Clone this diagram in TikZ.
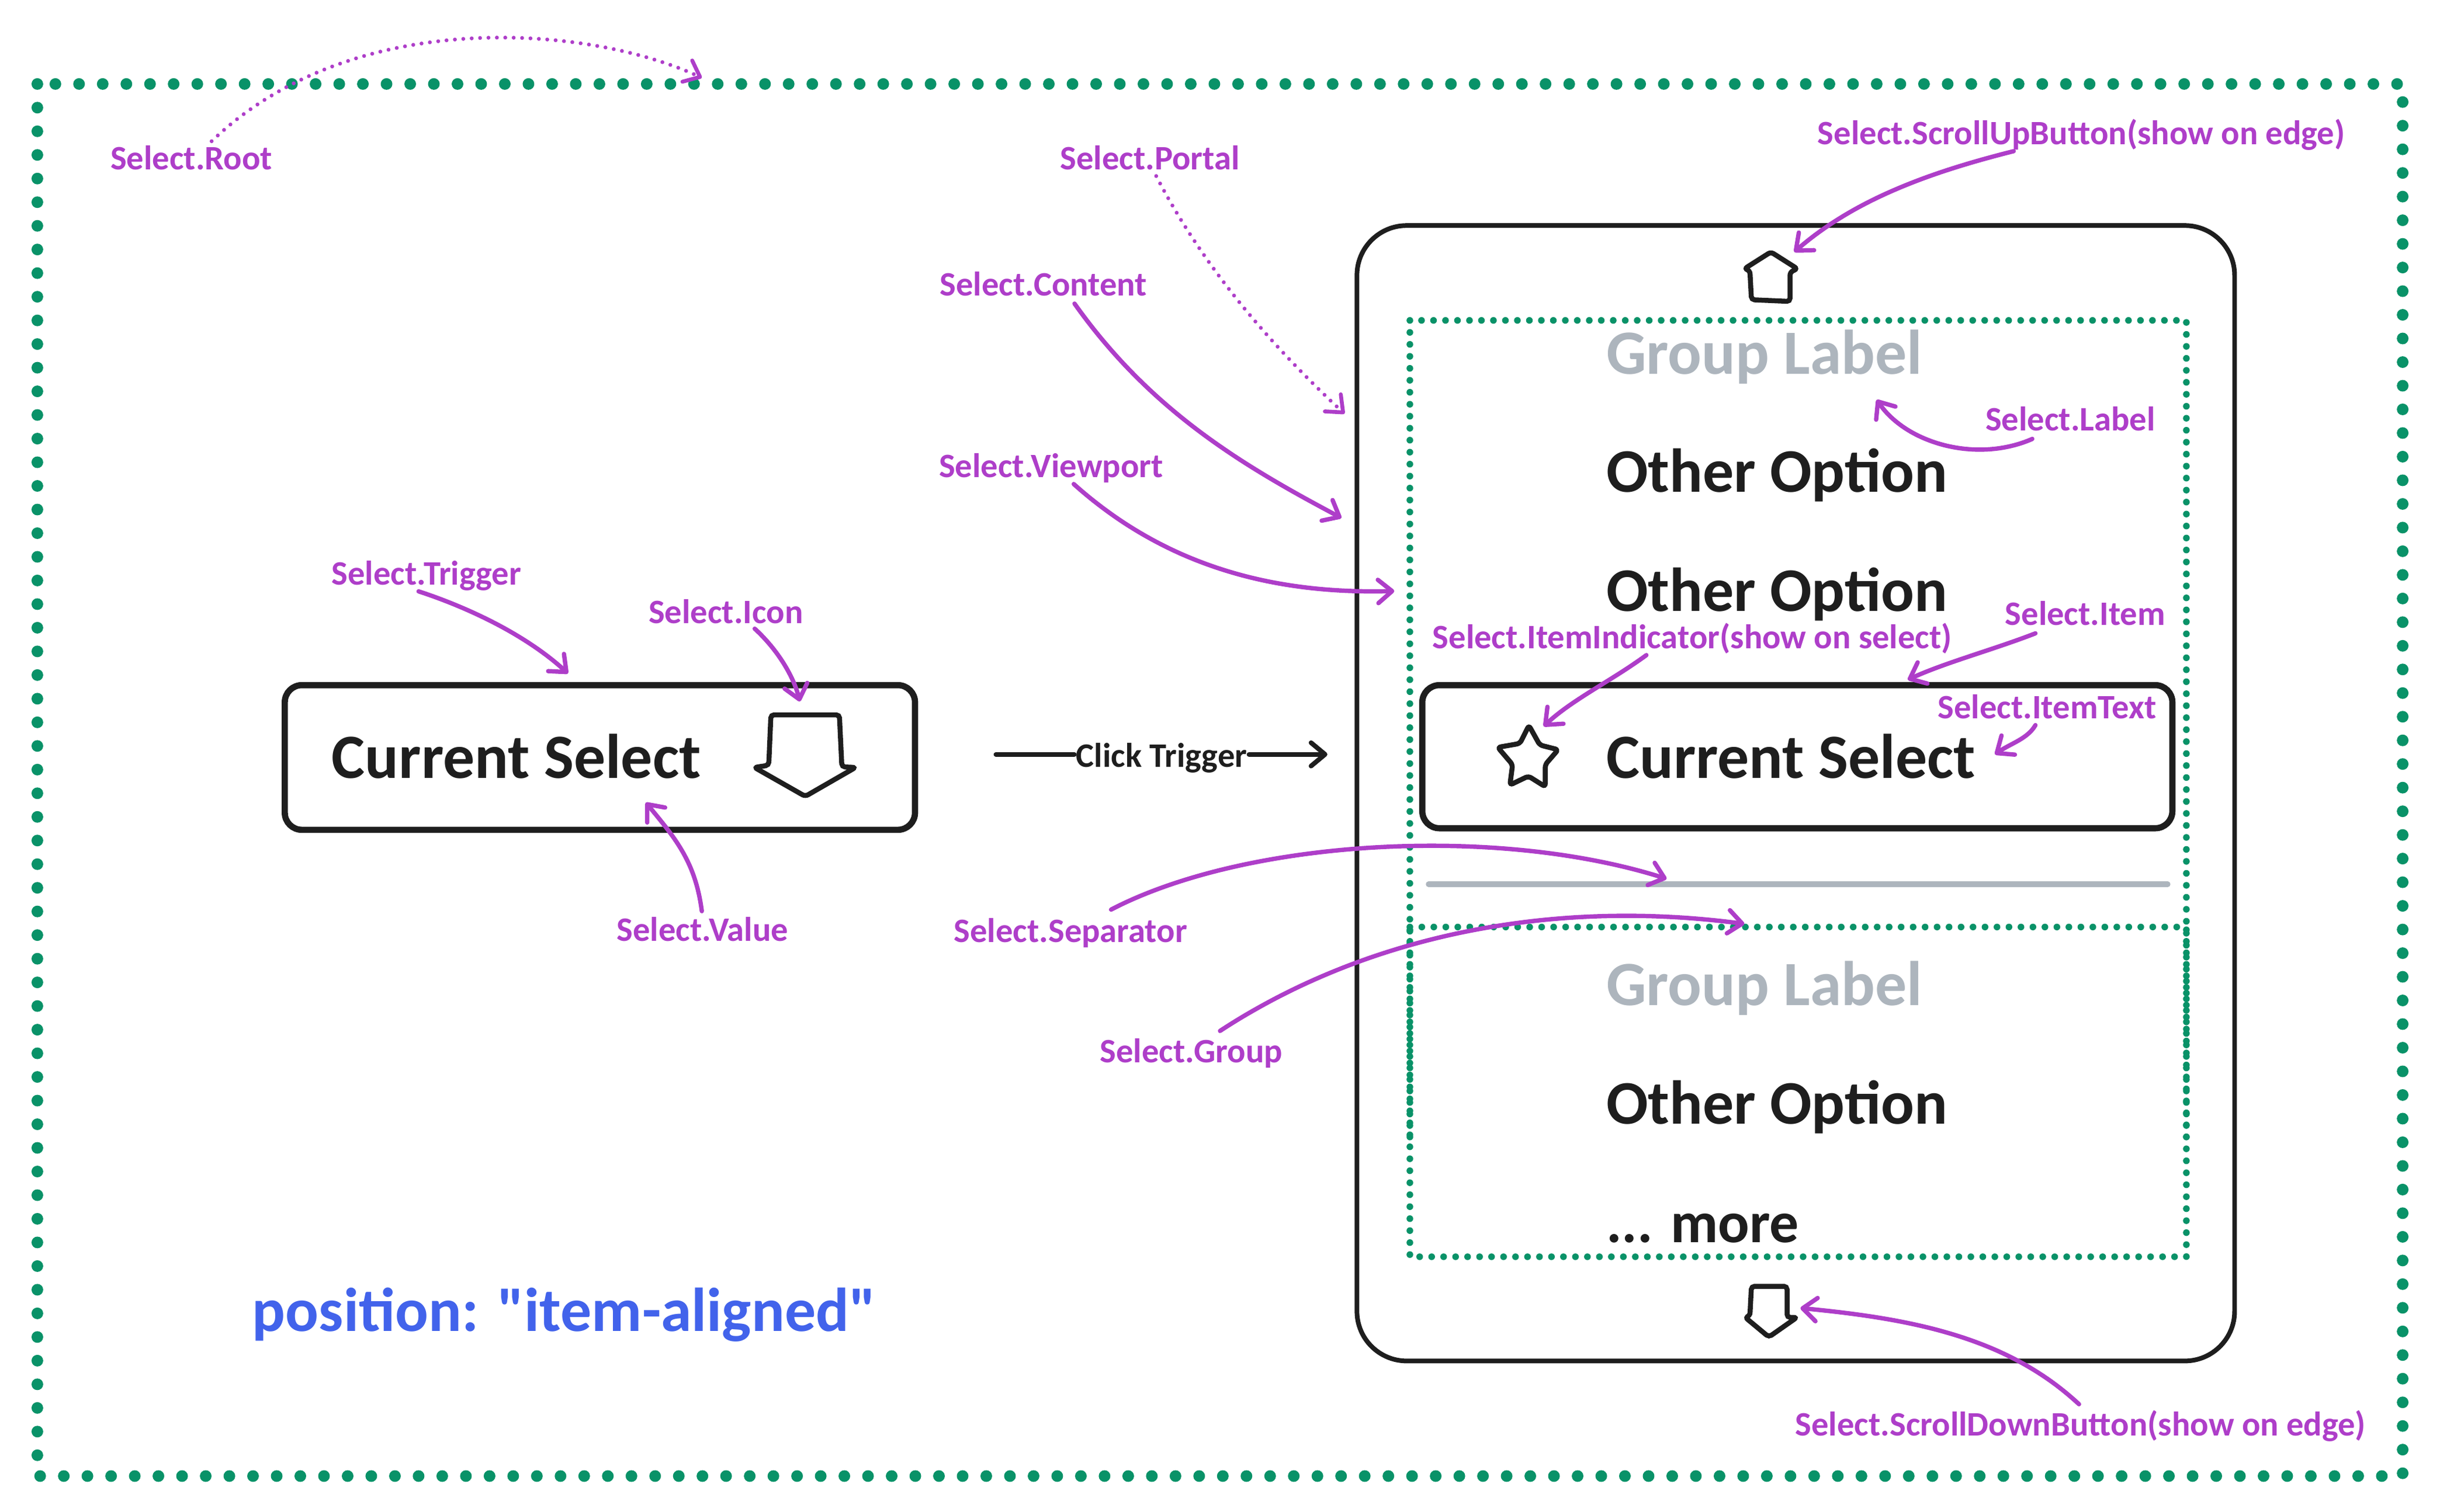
\documentclass[tikz,border=0pt]{standalone}
\usepackage{fontspec}
\setmainfont{Carlito}[Ligatures=TeXOff]
\usetikzlibrary{arrows.meta}

\definecolor{ink}{HTML}{1E1E1E}
\definecolor{callout}{HTML}{AE3EC9}
\definecolor{frame}{HTML}{099268}
\definecolor{muted}{HTML}{ADB5BD}
\definecolor{note}{HTML}{4263EB}

\tikzset{
    tag/.style={text=callout, font=\fontsize{22}{24}\selectfont\bfseries, inner sep=1pt, text height=17pt, text depth=5pt},
    entry/.style={text=ink, font=\fontsize{40.5}{44}\selectfont\bfseries, inner sep=0pt, anchor=base west},
    optionentry/.style={entry, font=\fontsize{39.8}{44}\selectfont\bfseries},
    grouplabel/.style={entry, text=muted},
    rootline/.style={draw=frame, line width=7.5pt, line cap=round, dash pattern=on 0pt off 15.2pt},
    groupline/.style={draw=frame, line width=4.3pt, line cap=round, dash pattern=on 0pt off 7.7pt},
    selectbox/.style={draw=ink, line width=4pt, rounded corners=11pt, inner sep=0pt},
    panelbox/.style={draw=ink, line width=3pt, rounded corners=32pt, inner sep=0pt},
    icon/.style={draw=ink, line width=3.2pt, rounded corners=2pt},
    pointer/.style={draw=callout, line width=2.8pt, line cap=round, -{Straight Barb[length=9pt,width=15pt,round]}},
    dotpointer/.style={pointer, line width=2.5pt, dash pattern=on 0pt off 5.4pt},
    clickline/.style={draw=ink, line width=3pt, line cap=round},
}

\begin{document}
\begin{tikzpicture}[x=1pt,y=-1pt]
    \useasboundingbox (0,0) rectangle (1568,972);

    \draw[rootline] (24,54) rectangle (1544,949);

    \node[panelbox, minimum width=564pt, minimum height=730pt] (panel) at (1154,510) {};
    \draw[groupline] (906,206) rectangle (1405,808);
    \draw[groupline] (906,596) -- (1405,596);
    \draw[groupline, dash pattern=on 0pt off 7.4pt] (906,731) -- (906,596);
    \draw[groupline, dash pattern=on 0pt off 7.4pt] (1405,731) -- (1405,596);
    \node[selectbox, minimum width=405pt, minimum height=93pt] (trigger) at (385.5,487) {};
    \node[selectbox, minimum width=482pt, minimum height=92pt] (item) at (1155,486.5) {};

    \draw[icon] (495.4,459.6) -- (539.4,459.6) -- (541,493) -- (549.8,493.4) -- (517.5,512) -- (484.8,493.4) -- (494,492) -- cycle;
    \draw[icon] (1138,162) -- (1155,172.8) -- (1150.3,175) -- (1150.3,193.8) -- (1125.5,192.7) -- (1124.5,174) -- (1121,172.8) -- cycle;
    \draw[icon] (1125.5,827) -- (1148.4,827) -- (1148.4,847) -- (1154.7,847) -- (1136.7,859.6) -- (1121.5,847) -- (1124.5,846) -- cycle;
    \draw[icon] (982.5,466.4) -- (989.5,479) -- (1001.3,482) -- (993,491.6) -- (993,505.8) -- (982.2,499) -- (970.3,504.7) -- (972,491.6) -- (962.5,480.5) -- (976.7,478) -- cycle;

    \coordinate (sepL) at (918,568.5);
    \coordinate (sepR) at (1393,568.5);
    \draw[draw=muted, line width=3.5pt, line cap=round] (sepL) -- (sepR);

    \node[entry] (value) at (213,500.5) {Current Select};
    \node[grouplabel] (labelA) at (1032,240.5) {Group Label};
    \node[optionentry] (optA) at (1032,316.5) {Other Option};
    \node[optionentry] (optB) at (1032,393) {Other Option};
    \node[entry] (current) at (1032,500.5) {Current Select};
    \node[grouplabel] (labelB) at (1032,646.5) {Group Label};
    \node[optionentry] (optC) at (1032,722.5) {Other Option};
    \node[entry, font=\fontsize{37.5}{44}\selectfont\bfseries] (more) at (1032,799) {... more};
    \node[optionentry, text=note] (position) at (162,856) {position: "item-aligned"};

    \node[tag] (tRoot) at (123,103) {Select.Root};
    \node[tag] (tPortal) at (739,103) {Select.Portal};
    \node[tag] (tUp) at (1337.5,87) {Select.ScrollUpButton(show on edge)};
    \node[tag] (tContent) at (670.5,184) {Select.Content};
    \node[tag] (tLabel) at (1330.5,271) {Select.Label};
    \node[tag] (tViewport) at (675.5,301) {Select.Viewport};
    \node[tag] (tTrigger) at (274,370) {Select.Trigger};
    \node[tag] (tIcon) at (466.5,395) {Select.Icon};
    \node[tag] (tIndicator) at (1087.5,411) {Select.ItemIndicator(show on select)};
    \node[tag] (tItem) at (1340,396) {Select.Item};
    \node[tag] (tText) at (1315.5,456) {Select.ItemText};
    \node[tag] (tValue) at (451.5,599) {Select.Value};
    \node[tag] (tSeparator) at (688,600) {Select.Separator};
    \node[tag] (tGroup) at (765.5,677) {Select.Group};
    \node[tag] (tDown) at (1337,917) {Select.ScrollDownButton(show on edge)};

    \coordinate (aRoot) at (451,50);
    \coordinate (aPortal) at (864,266);
    \coordinate (aUp) at (1153,162);
    \coordinate (aContent) at (862,333);
    \coordinate (aLabel) at (1206,257);
    \coordinate (aViewport) at (896,380);
    \coordinate (aTrigger) at (365,433);
    \coordinate (aIcon) at (514,451);
    \coordinate (aIndicator) at (992,467);
    \coordinate (aItem) at (1226,437);
    \coordinate (aText) at (1282,485);
    \coordinate (aValue) at (415,516);
    \coordinate (aSeparator) at (1071,565);
    \coordinate (aGroup) at (1121,594);
    \coordinate (aDown) at (1157,841);

    \draw[dotpointer] (tRoot.north) ++(13,0) .. controls (225,5) and (375,15) .. (aRoot);
    \draw[dotpointer] (tPortal.south) ++(4,-2) .. controls (775,175) and (820,225) .. (aPortal);
    \draw[pointer] (tUp.south) ++(-43.5,-2) .. controls (1235,112) and (1190,130) .. (aUp);
    \draw[pointer] (tContent.south) ++(20,-1) .. controls (740,265) and (800,300) .. (aContent);
    \draw[pointer] (tLabel.south) ++(-24.5,-1) .. controls (1270,298) and (1225,285) .. (aLabel);
    \draw[pointer] (tViewport.south) ++(14.5,-2) .. controls (750,365) and (820,382) .. (aViewport);
    \draw[pointer] (tTrigger.south) ++(-5,-2) .. controls (305,392) and (340,410) .. (aTrigger);
    \draw[pointer] (tIcon.south) ++(18.5,-3) .. controls (500,418) and (510,435) .. (aIcon);
    \draw[pointer] (tIndicator.south) ++(-29.5,-2) .. controls (1035,438) and (1010,450) .. (aIndicator);
    \draw[pointer] (tItem.south) ++(-32,-1) .. controls (1280,418) and (1250,426) .. (aItem);
    \draw[pointer] (tText.south) ++(-7.5,-2) .. controls (1303,475) and (1292,478) .. (aText);
    \draw[pointer] (tValue.north) ++(-0.5,-1) .. controls (447,555) and (435,540) .. (aValue);
    \draw[pointer] (tSeparator.north) ++(26,-3) .. controls (800,540) and (960,530) .. (aSeparator);
    \draw[pointer] (tGroup.north) ++(18.5,-2) .. controls (880,600) and (1000,578) .. (aGroup);
    \draw[pointer] (tDown.north) ++(-1,-2) .. controls (1290,860) and (1230,848) .. (aDown);

    \node[text=ink, font=\fontsize{22}{24}\selectfont\bfseries, inner sep=1pt] (click) at (746.5,487.5) {Click Trigger};
    \coordinate (clickA) at (640,485);
    \coordinate (clickB) at (853,485);
    \draw[clickline] (clickA) -- (clickA -| click.west);
    \draw[clickline, -{Straight Barb[length=9pt,width=15pt,round]}] (clickB -| click.east) -- (clickB);

\end{tikzpicture}
\end{document}
